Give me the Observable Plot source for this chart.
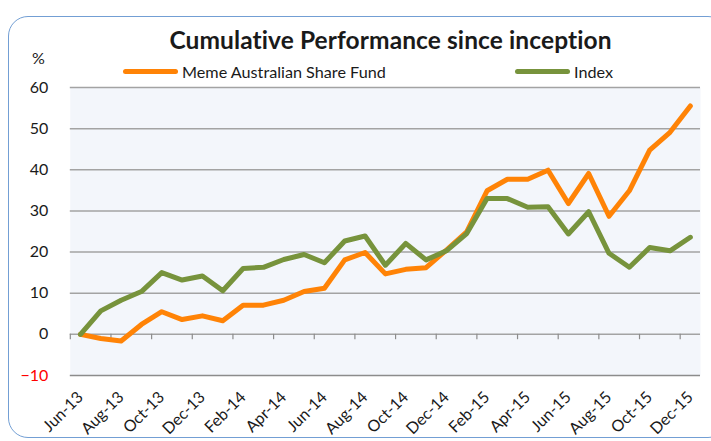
<!DOCTYPE html>
<html>
<head>
<meta charset="utf-8">
<script src="https://cdn.jsdelivr.net/npm/d3@7"></script>
<script src="https://cdn.jsdelivr.net/npm/@observablehq/plot@0.6"></script>
<style>
  html, body { margin: 0; padding: 0; background: #fff; }
  #wrap { position: relative; width: 711px; height: 441px; overflow: hidden; font-family: Lato, "Open Sans", sans-serif; color: #1a1a1a; }
  #border { position: absolute; left: 8px; top: 16px; width: 720px; height: 422px; border: 1.5px solid #739fd4; border-radius: 20px; box-sizing: border-box; }
  #title { position: absolute; left: 75px; width: 631px; top: 25px; text-align: center; font-weight: bold; font-size: 24.5px; letter-spacing: 0.1px; }
  #pct { position: absolute; left: 32px; top: 48px; font-size: 16px; }
  .leg { position: absolute; top: 62px; font-size: 16.2px; display: flex; align-items: center; }
  .leg span.sw { display: inline-block; width: 55px; height: 5px; border-radius: 3px; margin-right: 4px; }
  #chart { position: absolute; left: 0; top: 0; }
</style>
</head>
<body>
<div id="wrap">
  <div id="border"></div>
  <div id="chart"></div>
  <div id="title">Cumulative Performance since inception</div>
  <div id="pct">%</div>
  <div class="leg" style="left:123px"><span class="sw" style="background:#ff8306"></span>Meme Australian Share Fund</div>
  <div class="leg" style="left:515px"><span class="sw" style="background:#77933c"></span>Index</div>
</div>
<script>
const months = ["Jun-13","Jul-13","Aug-13","Sep-13","Oct-13","Nov-13","Dec-13","Jan-14","Feb-14","Mar-14","Apr-14","May-14","Jun-14","Jul-14","Aug-14","Sep-14","Oct-14","Nov-14","Dec-14","Jan-15","Feb-15","Mar-15","Apr-15","May-15","Jun-15","Jul-15","Aug-15","Sep-15","Oct-15","Nov-15","Dec-15"];
const fundValues = [0, -1.0, -1.6, 2.4, 5.5, 3.6, 4.5, 3.3, 7.1, 7.1, 8.3, 10.4, 11.2, 18.1, 19.9, 14.7, 15.8, 16.2, 20.5, 24.9, 34.9, 37.7, 37.7, 39.9, 31.8, 39.1, 28.7, 34.9, 44.8, 49.1, 55.5];
const indexValues = [0, 5.7, 8.3, 10.4, 15.0, 13.2, 14.2, 10.6, 16.0, 16.3, 18.2, 19.4, 17.4, 22.7, 23.9, 16.8, 22.1, 18.1, 20.3, 24.5, 33.0, 33.0, 30.9, 31.0, 24.4, 29.8, 19.7, 16.3, 21.1, 20.3, 23.6];
const yTicks = [-10, 0, 10, 20, 30, 40, 50, 60];
const xTickLabels = months.filter((m, i) => i % 2 === 0);

const fund = months.map((m, i) => ({month: m, value: fundValues[i]}));
const index = months.map((m, i) => ({month: m, value: indexValues[i]}));

const chart = Plot.plot({
  width: 711,
  height: 441,
  marginLeft: 69.8,
  marginRight: 11,
  marginTop: 87,
  marginBottom: 66,
  style: {fontFamily: "Lato, 'Open Sans', sans-serif", background: "transparent", color: "#1a1a1a"},
  x: {type: "point", domain: months, padding: 0.5, round: false},
  y: {domain: [-10, 60]},
  marks: [
    Plot.frame({fill: "#f3f6fb", stroke: null}),
    Plot.ruleY(yTicks.filter(d => d > -10), {y: d => d, stroke: "#a3a3a3", strokeWidth: 1.5}),
    Plot.ruleY([-10], {stroke: "#8c8c8c", strokeWidth: 1.5}),
    Plot.ruleX(xTickLabels, {x: d => d, y1: 0, y2: -1.3, dx: -10.16, stroke: "#8c8c8c", strokeWidth: 1.2}),
    Plot.axisY(yTicks, {tickSize: 0, tickPadding: 22, fontSize: 16, fill: d => d < 0 ? "#ff0000" : "#1a1a1a", label: null}),
    Plot.axisX(xTickLabels, {tickSize: 0, tickPadding: 19, tickRotate: -45, fontSize: 16, dx: 0, label: null}),
    Plot.line(fund, {x: "month", y: "value", stroke: "#ff8306", strokeWidth: 5, strokeLinejoin: "round", strokeLinecap: "round"}),
    Plot.line(index, {x: "month", y: "value", stroke: "#77933c", strokeWidth: 5, strokeLinejoin: "round", strokeLinecap: "round"})
  ]
});
document.getElementById("chart").appendChild(chart);
</script>
</body>
</html>
